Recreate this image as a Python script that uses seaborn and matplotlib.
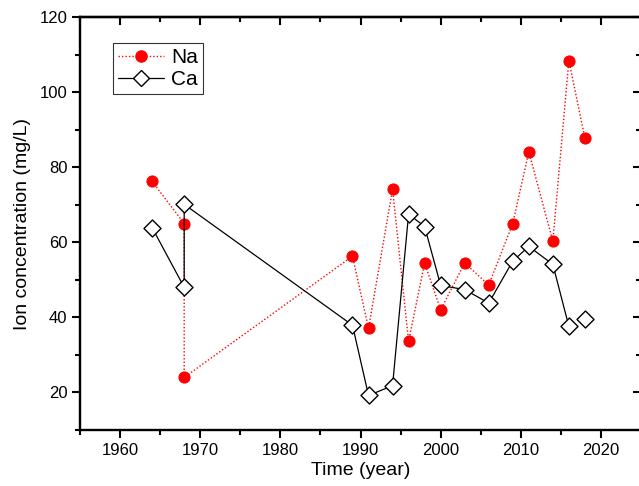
import matplotlib
matplotlib.use("Agg")
import matplotlib.pyplot as plt
import seaborn as sns
import pandas as pd
from matplotlib.lines import Line2D
from matplotlib.ticker import MultipleLocator

years = [1964, 1968, 1968, 1989, 1991, 1994, 1996, 1998, 2000, 2003, 2006, 2009, 2011, 2014, 2016, 2018]
na = [76.2, 65.0, 24.0, 56.3, 37.1, 74.1, 33.6, 54.5, 42.0, 54.5, 48.6, 65.0, 84.1, 60.3, 108.4, 87.7]
ca_years = [1964, 1968, 1968, 1989, 1991, 1994, 1996, 1998, 2000, 2003, 2006, 2009, 2011, 2014, 2016, 2018]
ca = [63.9, 48.0, 70.1, 37.9, 19.2, 21.8, 67.5, 64.2, 48.5, 47.4, 43.8, 55.0, 58.9, 54.1, 37.6, 39.6]

sns.set_theme(style="white")
plt.rcParams['font.family'] = ['Liberation Sans', 'DejaVu Sans']
plt.rcParams['text.color'] = 'black'
plt.rcParams['axes.labelcolor'] = 'black'
plt.rcParams['xtick.color'] = 'black'
plt.rcParams['ytick.color'] = 'black'

df_na = pd.DataFrame({"year": years, "val": na})
df_ca = pd.DataFrame({"year": ca_years, "val": ca})
df_ca_line = df_ca.iloc[:-1]

fig = plt.figure(figsize=(6.39, 4.86), dpi=100)
ax = fig.add_axes([80/639, 56/486, 561/639, 413/486])

sns.lineplot(data=df_na, x="year", y="val", sort=False, estimator=None, ax=ax,
             color="red", linestyle=(0, (1, 1.5)), linewidth=1.0,
             marker="o", markersize=8, markeredgecolor="red", markerfacecolor="red")
sns.lineplot(data=df_ca_line, x="year", y="val", sort=False, estimator=None, ax=ax,
             color="black", linewidth=0.9)
sns.scatterplot(data=df_ca, x="year", y="val", ax=ax, marker="D", s=75,
                facecolor="white", edgecolor="black", linewidth=1.0, zorder=5)

ax.set_xlim(1955, 2025)
ax.set_ylim(10, 120)
ax.xaxis.set_major_locator(MultipleLocator(10))
ax.xaxis.set_minor_locator(MultipleLocator(5))
ax.set_yticks([20, 40, 60, 80, 100, 120])
ax.yaxis.set_minor_locator(MultipleLocator(10))

for s in ax.spines.values():
    s.set_linewidth(1.7)
    s.set_color("black")

ax.tick_params(which="major", direction="out", length=6, width=1.5, labelsize=12,
               colors="black", bottom=True, left=True, pad=3)
ax.tick_params(which="minor", direction="out", length=3.5, width=1.5,
               bottom=True, left=True)

secx = ax.secondary_xaxis("top")
secx.xaxis.set_major_locator(MultipleLocator(10))
secx.xaxis.set_minor_locator(MultipleLocator(5))
secx.tick_params(which="major", direction="in", length=6, width=1.5, labeltop=False)
secx.tick_params(which="minor", direction="in", length=3.5, width=1.5)
secx.spines["top"].set_linewidth(1.7)

secy = ax.secondary_yaxis("right")
secy.yaxis.set_major_locator(MultipleLocator(20))
secy.yaxis.set_minor_locator(MultipleLocator(10))
secy.tick_params(which="major", direction="in", length=6, width=1.5, labelright=False)
secy.tick_params(which="minor", direction="in", length=3.5, width=1.5)

ax.set_xlabel("Time (year)", fontsize=14, labelpad=3)
ax.set_ylabel("Ion concentration (mg/L)", fontsize=14, labelpad=6)

handles = [
    Line2D([], [], color="red", linestyle=(0, (1, 1.5)), linewidth=1.0, marker="o",
           markersize=8, markerfacecolor="red", markeredgecolor="red"),
    Line2D([], [], color="black", linewidth=0.9, marker="D", markersize=8.5,
           markerfacecolor="white", markeredgecolor="black"),
]
leg = ax.legend(handles, ["Na", "Ca"], loc="upper left", bbox_to_anchor=(0.058, 0.938),
                fontsize=15, frameon=True, fancybox=False, handlelength=2.2,
                borderpad=0.25, labelspacing=0.15, handletextpad=0.35, borderaxespad=0)
leg.get_frame().set_edgecolor("black")
leg.get_frame().set_linewidth(0.8)

fig.savefig("out.png", dpi=100)
